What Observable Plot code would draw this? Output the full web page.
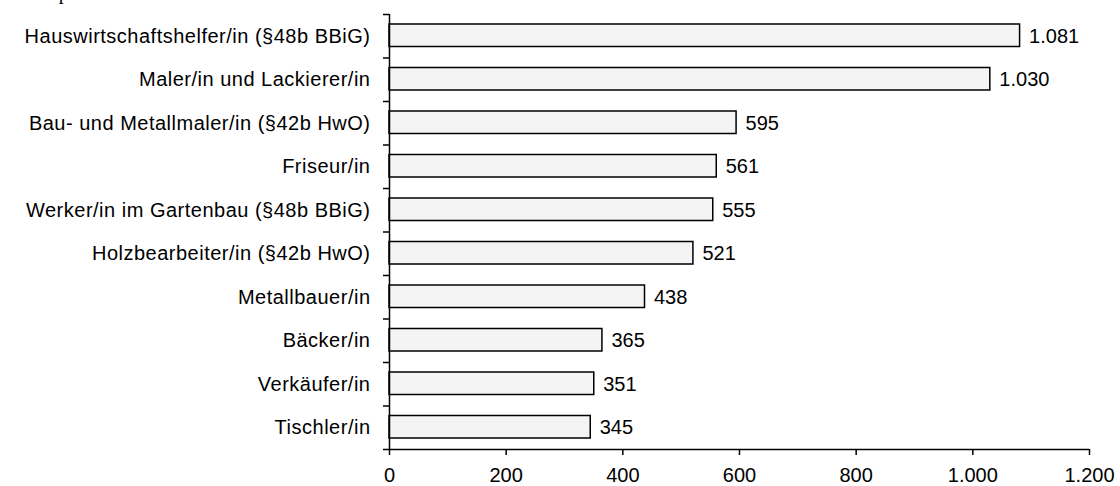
<!DOCTYPE html>
<html>
<head>
<meta charset="utf-8">
<script src="https://cdn.jsdelivr.net/npm/d3@7"></script>
<script src="https://cdn.jsdelivr.net/npm/@observablehq/plot@0.6"></script>
<style>
  html, body { margin: 0; padding: 0; background: #fff; }
  #wrap { position: relative; width: 1120px; height: 486px; overflow: hidden; }
  #title { position: absolute; left: 38px; top: -18px; font-family: "Liberation Serif", "Times New Roman", serif; font-size: 20px; line-height: 20px; color: #000; white-space: nowrap; }
  #chart { position: absolute; left: 0; top: 0; }
  .ylab text { letter-spacing: 0.5px; }
</style>
</head>
<body>
<div id="wrap">
  <div id="chart"></div>
  <div id="title">Top 10</div>
</div>
<script>
const categories = [
  "Hauswirtschaftshelfer/in (§48b BBiG)",
  "Maler/in und Lackierer/in",
  "Bau- und Metallmaler/in (§42b HwO)",
  "Friseur/in",
  "Werker/in im Gartenbau (§48b BBiG)",
  "Holzbearbeiter/in (§42b HwO)",
  "Metallbauer/in",
  "Bäcker/in",
  "Verkäufer/in",
  "Tischler/in"
];
const values = [1081, 1030, 595, 561, 555, 521, 438, 365, 351, 345];
const xTicks = [0, 200, 400, 600, 800, 1000, 1200];

const locale = d3.formatLocale({decimal: ",", thousands: ".", grouping: [3], currency: ["", " €"]});
const fmt = locale.format(",d");

const data = categories.map((c, i) => ({c, v: values[i], i}));
const boundaries = d3.range(0, categories.length + 1);

const chart = Plot.plot({
  width: 1120,
  height: 486,
  marginLeft: 389,
  marginRight: 31,
  marginTop: 14,
  marginBottom: 37,
  x: {domain: [0, 1200]},
  y: {domain: [0, categories.length], reverse: true},
  style: {fontFamily: "'Liberation Sans', Arial, sans-serif", fontSize: "20px", color: "#000", background: "#fff"},
  marks: [
    Plot.rectX(data, {x1: 0, x2: "v", y1: "i", y2: d => d.i + 1, insetTop: 10, insetBottom: 11, fill: "#f4f4f4", stroke: "#000", strokeWidth: 1.5}),
    Plot.text(data, {x: "v", y: d => d.i + 0.5, text: d => fmt(d.v), textAnchor: "start", dx: 9, fontSize: 20, fill: "#000"}),
    Plot.text(data, {x: 0, y: d => d.i + 0.5, text: "c", textAnchor: "end", dx: -19, fontSize: 20, fill: "#000", className: "ylab"}),
    Plot.axisY({ticks: boundaries, tickFormat: () => "", tickSize: 6, strokeWidth: 1.5, label: null}),
    Plot.axisX({ticks: xTicks, tickFormat: fmt, tickSize: 6, tickPadding: 12, strokeWidth: 1.5, fontSize: 20, label: null}),
    Plot.ruleX([0], {y1: 0, y2: categories.length, strokeWidth: 1.5}),
    Plot.ruleY([categories.length], {x1: 0, x2: 1200, strokeWidth: 1.5})
  ]
});
document.getElementById("chart").appendChild(chart);
</script>
</body>
</html>
